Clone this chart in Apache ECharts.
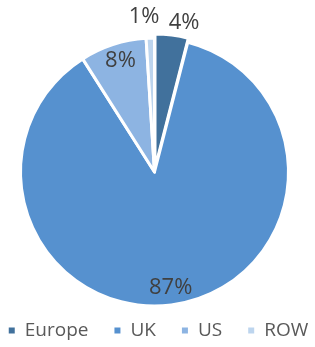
<!DOCTYPE html>
<html>
<head>
<meta charset="utf-8">
<script src="https://cdn.jsdelivr.net/npm/echarts@6/dist/echarts.min.js"></script>
<style>
  html, body { margin: 0; padding: 0; background: #fff; }
  #chart { width: 315px; height: 347px; }
</style>
</head>
<body>
<div id="chart"></div>
<script>
const regions = ['Europe', 'UK', 'US', 'ROW']
const shares = [4, 87, 8, 1]
const colors = ['#41719c', '#5691cf', '#8db4e2', '#bdd5ee']

const font = 'Open Sans, Noto Sans, sans-serif'
const center = [154.5, 172]

// transparent ring that only carries labels for some slices
const labelRing = (radius, show, startAngle) => ({
  type: 'pie',
  center: center,
  radius: radius,
  startAngle: startAngle || 90,
  silent: true,
  legendHoverLink: false,
  avoidLabelOverlap: false,
  labelLayout: { hideOverlap: false },
  itemStyle: { color: 'transparent', borderWidth: 0 },
  label: {
    position: 'inside',
    formatter: '{c}%',
    color: '#404040',
    fontSize: 22,
    fontFamily: font
  },
  labelLine: { show: false },
  emphasis: { disabled: true },
  data: regions.map((name, i) => ({
    name: name,
    value: shares[i],
    label: { show: show.indexOf(name) >= 0 }
  }))
})

const chart = echarts.init(document.getElementById('chart'))

chart.setOption({
  animation: false,
  color: colors,
  legend: {
    bottom: 2,
    left: 'center',
    icon: 'rect',
    itemWidth: 8,
    itemHeight: 8,
    itemGap: 24,
    textStyle: { color: '#595959', fontSize: 19, fontFamily: font, padding: [0, 0, 0, 4] },
    data: regions
  },
  series: [
    {
      type: 'pie',
      center: center,
      radius: 134,
      startAngle: 90,
      selectedMode: 'single',
      selectedOffset: 4,
      itemStyle: { borderColor: '#fff', borderWidth: 3 },
      label: { show: false },
      labelLine: { show: false },
      emphasis: { disabled: true },
      data: regions.map((name, i) => ({
        name: name,
        value: shares[i],
        selected: name === 'Europe'
      }))
    },
    labelRing([136, 162], ['Europe'], 86),
    labelRing([140, 166], ['ROW'], 92),
    labelRing([100, 127], ['US', 'UK'], 89)
  ]
})
</script>
</body>
</html>
